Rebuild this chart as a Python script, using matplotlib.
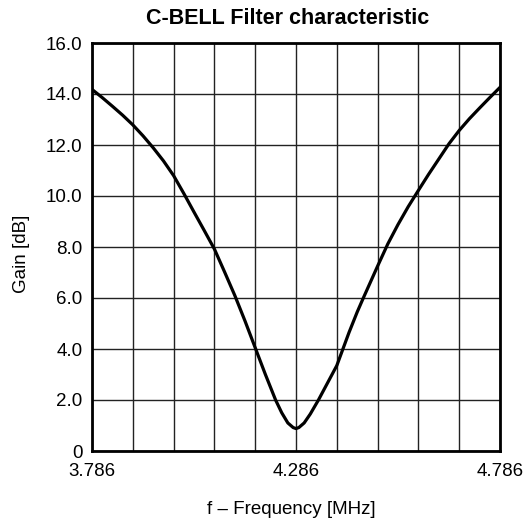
import numpy as np
import matplotlib
matplotlib.use('Agg')
import matplotlib.pyplot as plt

plt.rcParams['font.family'] = ['Liberation Sans', 'DejaVu Sans']

# 読み取った特性値 (周波数 MHz, ゲイン dB)
freq = [3.786, 3.811, 3.836, 3.861, 3.886, 3.911, 3.936, 3.961, 3.986, 4.011,
        4.036, 4.061, 4.086, 4.111, 4.136, 4.161, 4.186, 4.211, 4.236, 4.251,
        4.266, 4.279, 4.286, 4.293, 4.306, 4.321, 4.341, 4.361, 4.386, 4.401,
        4.416, 4.436, 4.451, 4.486, 4.511, 4.536, 4.561, 4.586, 4.611, 4.636,
        4.661, 4.686, 4.711, 4.736, 4.761, 4.786]
gain = [14.18, 13.86, 13.52, 13.17, 12.79, 12.36, 11.89, 11.38, 10.8, 10.1,
        9.37, 8.65, 7.92, 7.02, 6.1, 5.1, 4.05, 3.0, 2.0, 1.5,
        1.1, 0.92, 0.88, 0.92, 1.1, 1.45, 2.0, 2.6, 3.35, 4.0,
        4.65, 5.45, 6.0, 7.25, 8.12, 8.88, 9.58, 10.22, 10.85, 11.45,
        12.05, 12.57, 13.03, 13.45, 13.86, 14.26]

x_ticks = [3.786, 4.286, 4.786]
x_grid = np.round(np.arange(3.786, 4.7861, 0.1), 3)
y_ticks = [0, 2, 4, 6, 8, 10, 12, 14, 16]
y_labels = ['0', '2.0', '4.0', '6.0', '8.0', '10.0', '12.0', '14.0', '16.0']

fig = plt.figure(figsize=(5.27, 5.25), dpi=100)
ax = fig.add_axes([92 / 527, 1 - 451 / 525, 408 / 527, 408 / 525])

# グリッド
for xv in x_grid:
    ax.axvline(xv, color='#222222', lw=1.0, zorder=1)
for yv in y_ticks:
    ax.axhline(yv, color='#222222', lw=1.0, zorder=1)

ax.plot(freq, gain, color='black', lw=2.3, zorder=3, solid_joinstyle='round')

ax.set_xlim(3.786, 4.786)
ax.set_ylim(0, 16)
ax.set_xticks(x_ticks)
ax.set_xticklabels(['3.786', '4.286', '4.786'])
ax.set_yticks(y_ticks)
ax.set_yticklabels(y_labels)
ax.tick_params(length=0, labelsize=13.5, colors='black')
ax.tick_params(axis='x', pad=9)
ax.tick_params(axis='y', pad=7)
for s in ax.spines.values():
    s.set_linewidth(2.0)
    s.set_zorder(4)

ax.set_xlabel('f – Frequency [MHz]', fontsize=13.5)
ax.xaxis.set_label_coords((291 - 92) / 408, -(510 - 451) / 408)
ax.xaxis.label.set_va('center')
ax.set_ylabel('Gain [dB]', fontsize=13.5)
ax.yaxis.set_label_coords((21 - 92) / 408, (451 - 253.5) / 408)
ax.yaxis.label.set_va('center')

fig.text(287.5 / 527, 1 - 18 / 525, 'C-BELL Filter characteristic',
         fontsize=15.5, fontweight='bold', ha='center', va='center')

fig.savefig('out.png', dpi=100)
